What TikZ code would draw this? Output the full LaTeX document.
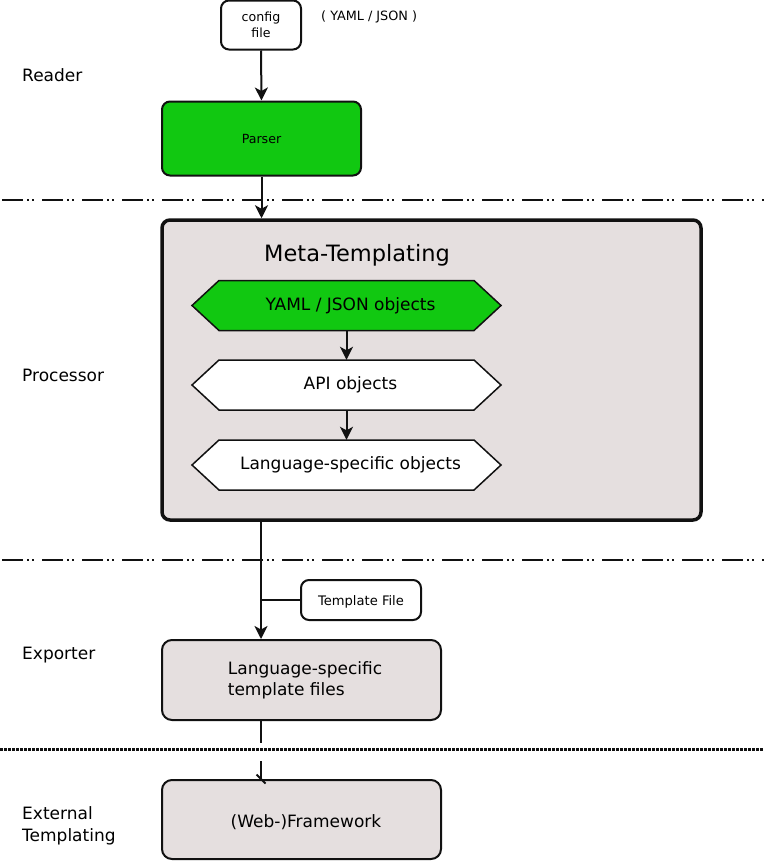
\documentclass[tikz,border=0pt]{standalone}
\usepackage{fontspec}
\setmainfont{DejaVu Sans}
\usetikzlibrary{arrows.meta}
\definecolor{grn}{RGB}{17,200,17}
\definecolor{lgray}{RGB}{229,223,223}
\definecolor{ink}{RGB}{17,17,17}
\begin{document}
\begin{tikzpicture}[x=1pt,y=-1pt,
  every node/.style={inner sep=0pt},
  box/.style={draw=ink, line width=2pt, rounded corners=8pt, align=center},
  small/.style={font=\fontsize{12.6}{16}\selectfont},
  big/.style={font=\fontsize{17}{21}\selectfont},
  lane/.style={font=\fontsize{17}{22}\selectfont, anchor=west, align=left},
  hexnode/.style={minimum width=309pt, minimum height=50pt, font=\fontsize{17}{21}\selectfont},
  hexline/.style={draw=ink, line width=1.5pt, line join=miter},
  conn/.style={draw=ink, line width=2pt},
  arr/.style={conn, -{Stealth[length=13pt,width=13pt,inset=3.5pt]}},
  dashdot/.style={draw=ink, line width=2pt, dash pattern=on 21pt off 4pt on 2pt off 3pt on 2pt off 8pt},
  dotline/.style={draw=ink, line width=3pt, dash pattern=on 2.5pt off 1.5pt},
]
\useasboundingbox (0,0) rectangle (764,862);
\fill[white] (0,0) rectangle (764,862);

% lane labels
\node[lane] (lreader) at (22,75) {Reader};
\node[lane] (lproc) at (22,375.5) {Processor};
\node[lane] (lexp) at (22,655.5) {Exporter};
\node[lane] (lext) at (22,826) {External\\Templating};

% separators
\draw[dashdot] (2,200) -- (764,200);
\draw[dashdot] (2,560) -- (764,560);

% reader
\node[box, small, fill=white, minimum width=80pt, minimum height=49pt] (cfg) at (261,25) {config\\file};
\node[font=\fontsize{12.8}{15}\selectfont, anchor=west] (fmt) at (321,16.5) {( YAML / JSON )};
\node[box, small, fill=grn, minimum width=199pt, minimum height=74pt] (parser) at (261.5,138.5) {Parser};

% processor
\node[box, fill=lgray, line width=3.5pt, minimum width=539pt, minimum height=300pt] (meta) at (431.5,370) {};
\node[font=\fontsize{22.5}{26}\selectfont] (title) at (357,255.5) {Meta-Templating};

\coordinate (yc) at (346.5,305.5);
\coordinate (ac) at (346.5,385);
\coordinate (lc) at (346.5,465);
\draw[hexline, fill=grn] ([xshift=-154.5pt]yc) -- ++(27,-25) -- ++(255,0) -- ++(27,25) -- ++(-27,25) -- ++(-255,0) -- cycle;
\draw[hexline, fill=white] ([xshift=-154.5pt]ac) -- ++(27,-25) -- ++(255,0) -- ++(27,25) -- ++(-27,25) -- ++(-255,0) -- cycle;
\draw[hexline, fill=white] ([xshift=-154.5pt]lc) -- ++(27,-25) -- ++(255,0) -- ++(27,25) -- ++(-27,25) -- ++(-255,0) -- cycle;
\node[hexnode] (yaml) at (yc) {\hspace*{8pt}YAML / JSON objects};
\node[hexnode] (api) at (ac) {\hspace*{8pt}API objects};
\node[hexnode] (lang) at (lc) {\hspace*{8pt}Language-specific objects};
\draw[arr] (yaml.south) -- (api.north);
\draw[arr] (api.south) -- (lang.north);

% exporter
\node[box, fill=white, minimum width=120pt, minimum height=40pt, font=\fontsize{13.1}{16}\selectfont, text height=10pt, text depth=0pt] (tf) at (361,600) {Template File};
\node[box, big, fill=lgray, align=left, rounded corners=10pt, minimum width=279pt, minimum height=80pt] (exp) at (301.5,680) {\hspace*{7pt}Language-specific\\\hspace*{7pt}template files};
\node[box, big, fill=lgray, rounded corners=10pt, minimum width=279pt, minimum height=79pt, text height=15.4pt, text depth=0pt] (fw) at (301.5,819.5) {\hspace*{9pt}(Web-)Framework};

% connectors
\draw[arr] (cfg.south) -- (parser.north);
\draw[arr] (parser.south) -- (parser.south |- meta.north);
\coordinate (mbot) at (261,520);
\coordinate (expin) at (exp.north -| mbot);
\draw[arr] (mbot) -- (expin);
\draw[conn] (tf.west) -- (tf.west -| mbot);
\coordinate (expout) at (exp.south -| mbot);
\coordinate (fwtop) at (fw.north -| mbot);
\draw[conn, dash pattern=on 22pt off 18pt] (expout) -- (fwtop);
\draw[conn, line width=1.8pt] ([shift={(-4.5,-4.5)}]fwtop) -- ++(9,9);

% external separator
\draw[dotline] (0,749) -- (764,749);
\end{tikzpicture}
\end{document}
